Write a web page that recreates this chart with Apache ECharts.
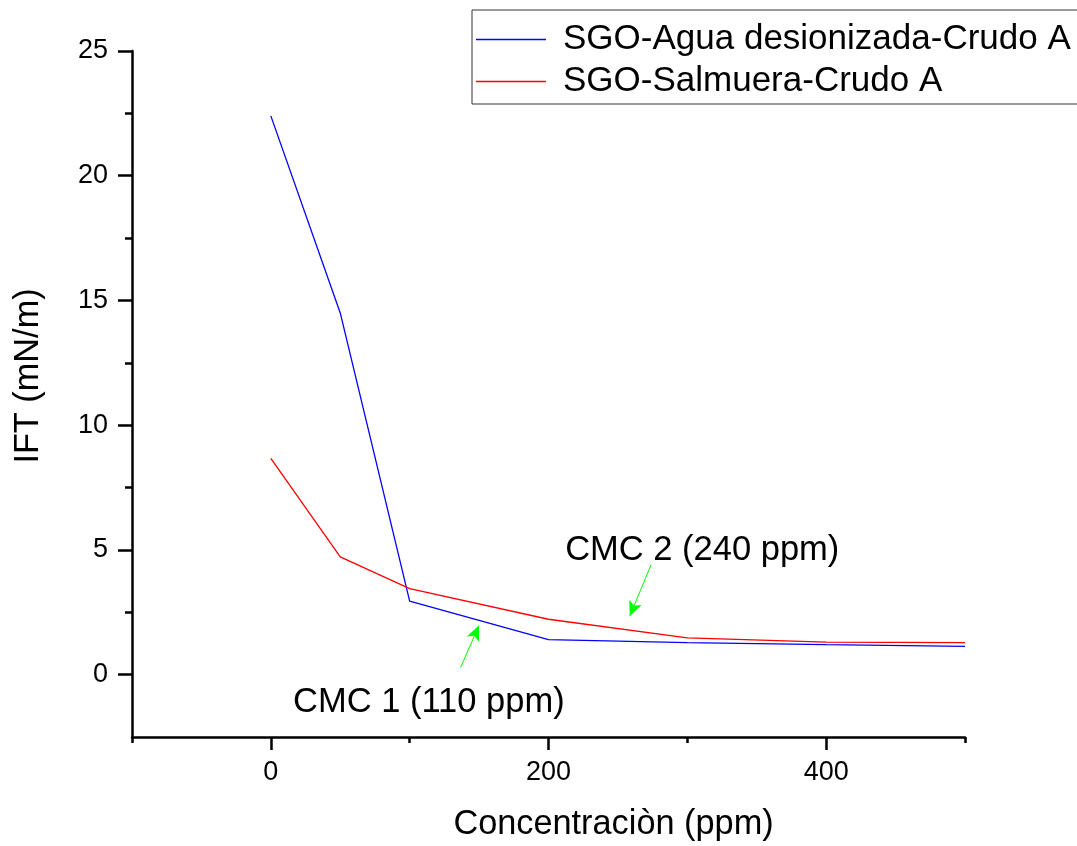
<!DOCTYPE html>
<html>
<head>
<meta charset="utf-8">
<script src="https://cdn.jsdelivr.net/npm/echarts@6/dist/echarts.min.js"></script>
<style>
html,body{margin:0;padding:0;background:#fff;}
#chart{width:1077px;height:846px;}
</style>
</head>
<body>
<div id="chart"></div>
<script>
// Data
var concentration = [0, 50, 100, 200, 300, 400, 500];
var aguaDesionizada = [22.4, 14.5, 2.95, 1.4, 1.28, 1.2, 1.13];
var salmuera = [8.67, 4.72, 3.45, 2.22, 1.47, 1.3, 1.28];
var seriesNames = ['SGO-Agua desionizada-Crudo A', 'SGO-Salmuera-Crudo A'];

// Ticks
var xMajorTicks = [0, 200, 400];
var xMinorTicks = [-100, 100, 300, 500];
var yMajorTicks = [0, 5, 10, 15, 20, 25];
var yMinorTicks = [2.5, 7.5, 12.5, 17.5, 22.5];

// Annotations (data coordinates)
var cmc1Label = { text: 'CMC 1 (110 ppm)', at: [16, -1.12] };
var cmc2Label = { text: 'CMC 2 (240 ppm)', at: [212, 4.98] };
var cmc1Arrow = [[136.7, 0.29], [149.9, 1.97]];
var cmc2Arrow = [[273.9, 4.41], [258.5, 2.34]];

var FONT = "'Liberation Sans', Arial, sans-serif";

function pairs(xs, ys) {
  return xs.map(function (x, i) { return [x, ys[i]]; });
}

var chart = echarts.init(document.getElementById('chart'), null, { renderer: 'canvas' });

var axisLineStyle = { color: '#000', width: 2.5 };

var option = {
  animation: false,
  backgroundColor: '#fff',
  grid: { left: 132, right: 112, top: 51, bottom: 109, containLabel: false, outerBoundsMode: 'none' },
  legend: {
    orient: 'vertical',
    left: 472,
    top: 10,
    padding: [12, 30, 5, 4],
    itemGap: 7,
    itemWidth: 70,
    itemHeight: 1.6,
    icon: 'rect',
    borderColor: '#333',
    borderWidth: 1,
    borderRadius: 0,
    textStyle: { fontFamily: FONT, fontSize: 35, color: '#000', padding: [0, 0, 0, 12] },
    data: seriesNames
  },
  xAxis: [{
    type: 'value',
    min: -100, max: 500,
    position: 'bottom',
    name: 'Concentraciòn (ppm)',
    nameLocation: 'middle',
    nameGap: 71,
    nameTextStyle: { fontFamily: FONT, fontSize: 34.3, color: '#000', padding: [0, 0, 0, 130] },
    axisLine: { show: true, onZero: false, lineStyle: axisLineStyle },
    axisTick: { show: true, inside: false, length: 13, customValues: xMajorTicks, lineStyle: axisLineStyle },
    axisLabel: { show: true, customValues: xMajorTicks, margin: 22, fontFamily: FONT, fontSize: 27, color: '#000' },
    splitLine: { show: false }
  }, {
    type: 'value',
    min: -100, max: 500,
    position: 'bottom',
    axisLine: { show: false, onZero: false },
    axisTick: { show: true, inside: false, length: 6, customValues: xMinorTicks, lineStyle: axisLineStyle },
    axisLabel: { show: false },
    splitLine: { show: false }
  }],
  yAxis: [{
    type: 'value',
    min: -2.5, max: 25,
    position: 'left',
    name: 'IFT (mN/m)',
    nameLocation: 'middle',
    nameGap: 86,
    nameTextStyle: { fontFamily: FONT, fontSize: 34.3, color: '#000', padding: [0, 0, 0, 36] },
    axisLine: { show: true, onZero: false, lineStyle: axisLineStyle },
    axisTick: { show: true, inside: false, length: 14, customValues: yMajorTicks, lineStyle: axisLineStyle },
    axisLabel: { show: true, customValues: yMajorTicks, margin: 24, fontFamily: FONT, fontSize: 27, color: '#000' },
    splitLine: { show: false }
  }, {
    type: 'value',
    min: -2.5, max: 25,
    position: 'left',
    axisLine: { show: false, onZero: false },
    axisTick: { show: true, inside: false, length: 7, customValues: yMinorTicks, lineStyle: axisLineStyle },
    axisLabel: { show: false },
    splitLine: { show: false }
  }],
  series: [{
    name: seriesNames[0],
    type: 'line',
    xAxisIndex: 0, yAxisIndex: 0,
    data: pairs(concentration, aguaDesionizada),
    symbol: 'none',
    color: '#0000ff',
    lineStyle: { color: '#0000ff', width: 1.3 },
    silent: true,
    markLine: {
      silent: true,
      symbol: ['none', 'arrow'],
      symbolSize: [10, 15],
      label: { show: false },
      lineStyle: { color: '#00ff00', width: 1, type: 'solid' },
      emphasis: { disabled: true },
      data: [[{ coord: cmc1Arrow[0] }, { coord: cmc1Arrow[1] }]]
    },
    markPoint: {
      silent: true,
      symbol: 'circle',
      symbolSize: 0,
      data: [{
        coord: cmc1Label.at,
        label: { show: true, formatter: cmc1Label.text, position: 'right', distance: 0, fontFamily: FONT, fontSize: 34.5, color: '#000' }
      }]
    }
  }, {
    name: seriesNames[1],
    type: 'line',
    xAxisIndex: 0, yAxisIndex: 0,
    data: pairs(concentration, salmuera),
    symbol: 'none',
    color: '#ff0000',
    lineStyle: { color: '#ff0000', width: 1.3 },
    silent: true,
    markLine: {
      silent: true,
      symbol: ['none', 'arrow'],
      symbolSize: [10, 15],
      label: { show: false },
      lineStyle: { color: '#00ff00', width: 1, type: 'solid' },
      emphasis: { disabled: true },
      data: [[{ coord: cmc2Arrow[0] }, { coord: cmc2Arrow[1] }]]
    },
    markPoint: {
      silent: true,
      symbol: 'circle',
      symbolSize: 0,
      data: [{
        coord: cmc2Label.at,
        label: { show: true, formatter: cmc2Label.text, position: 'right', distance: 0, fontFamily: FONT, fontSize: 34.5, color: '#000' }
      }]
    }
  }]
};

chart.setOption(option);
</script>
</body>
</html>
